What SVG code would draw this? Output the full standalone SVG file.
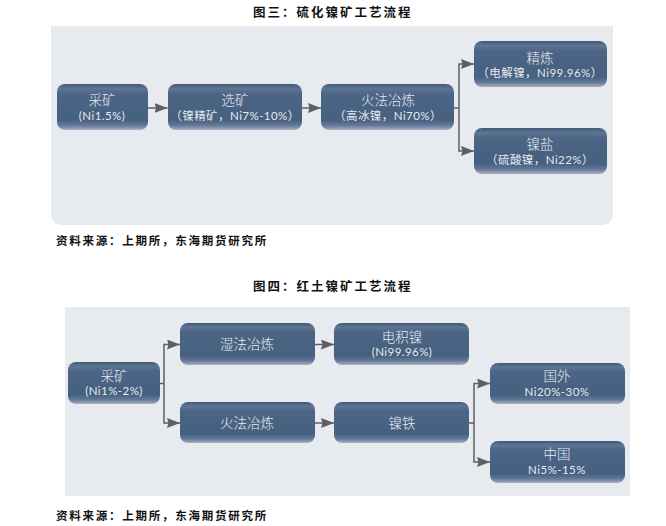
<svg xmlns="http://www.w3.org/2000/svg" width="666" height="526" viewBox="0 0 666 526">
<style>
text{font-family:"Noto Sans CJK SC","Noto Sans",sans-serif}
.t{font-size:12.5px;font-weight:700;fill:#111;letter-spacing:2px}
.s{font-size:11.5px;font-weight:700;fill:#111;letter-spacing:1.75px}
.a{font-size:13.5px;fill:#e8ebf0;text-anchor:middle;font-weight:300}
.b{font-size:11.5px;fill:#e6eaf0;text-anchor:middle;font-weight:400;font-family:"Lato","Noto Sans CJK SC",sans-serif;letter-spacing:.45px}
.n{fill:url(#g)}
.c{fill:none;stroke:#5c6064;stroke-width:1.5;marker-end:url(#m)}
.l{fill:none;stroke:#5c6064;stroke-width:1.5}
</style>
<defs>
<linearGradient id="g" x1="0" y1="0" x2="0" y2="1">
<stop offset="0" stop-color="#41597a"/><stop offset=".1" stop-color="#5d7591"/><stop offset=".22" stop-color="#4c6585"/><stop offset=".78" stop-color="#46607f"/><stop offset=".9" stop-color="#64799a"/><stop offset="1" stop-color="#a9b1c0"/>
</linearGradient>
<marker id="m" markerUnits="userSpaceOnUse" markerWidth="14" markerHeight="11" refX="13" refY="5" orient="auto"><path d="M0 0L13 5L0 10L1.500 5Z" fill="#5c6064"/></marker>
</defs>
<rect width="666" height="526" fill="#fff"/>
<text class="t" x="253" y="17">图三：硫化镍矿工艺流程</text>
<path d="M51 26H613V213Q613 225 601 225H63Q51 225 51 213Z" fill="#e7eaef"/>
<rect x="65" y="307" width="565" height="189" fill="#e7eaef"/>
<text class="s" x="56" y="245">资料来源：上期所，东海期货研究所</text>
<text class="t" x="253" y="291">图四：红土镍矿工艺流程</text>
<text class="s" x="56" y="520">资料来源：上期所，东海期货研究所</text>
<g id="connectors">
<path class="c" d="M148 108H167.500"/>
<path class="c" d="M301 108H321"/>
<path class="l" d="M454 108H459"/>
<path class="c" d="M459 108V64H474"/>
<path class="c" d="M459 108V151H474"/>
<path class="l" d="M160 383.500H164"/>
<path class="c" d="M164 383.500V344.500H180"/>
<path class="c" d="M164 383.500V423H180"/>
<path class="c" d="M315 344.500H334"/>
<path class="c" d="M315 423H334"/>
<path class="l" d="M469 423H474"/>
<path class="c" d="M474 423V383.500H490"/>
<path class="c" d="M474 423V462H490"/>
</g>
<g id="n1"><rect class="n" x="57" y="84" width="91" height="46" rx="8"/><text class="a" x="102" y="105">采矿</text><text class="b" x="102" y="120">(Ni1.5%)</text></g>
<g id="n2"><rect class="n" x="168" y="84" width="134" height="46" rx="8"/><text class="a" x="235" y="105">选矿</text><text class="b" x="235" y="120">（镍精矿，Ni7%-10%）</text></g>
<g id="n3"><rect class="n" x="321" y="84" width="133" height="46" rx="8"/><text class="a" x="388" y="105">火法冶炼</text><text class="b" x="388" y="120">（高冰镍，Ni70%）</text></g>
<g id="n4"><rect class="n" x="474" y="41" width="133" height="46" rx="8"/><text class="a" x="540" y="63">精炼</text><text class="b" x="540" y="77">（电解镍，Ni99.96%）</text></g>
<g id="n5"><rect class="n" x="474" y="128" width="133" height="46" rx="8"/><text class="a" x="540" y="149">镍盐</text><text class="b" x="540" y="164">（硫酸镍，Ni22%）</text></g>
<g id="n6"><rect class="n" x="68" y="362" width="92" height="42" rx="8"/><text class="a" x="114" y="381">采矿</text><text class="b" x="114" y="395">(Ni1%-2%)</text></g>
<g id="n7"><rect class="n" x="180" y="323" width="135" height="42" rx="8"/><text class="a" x="247" y="349">湿法冶炼</text></g>
<g id="n8"><rect class="n" x="180" y="402" width="135" height="41" rx="8"/><text class="a" x="247" y="428">火法冶炼</text></g>
<g id="n9"><rect class="n" x="334" y="323" width="135" height="42" rx="8"/><text class="a" x="402" y="342">电积镍</text><text class="b" x="402" y="356">(Ni99.96%)</text></g>
<g id="n10"><rect class="n" x="334" y="402" width="135" height="41" rx="8"/><text class="a" x="402" y="428">镍铁</text></g>
<g id="n11"><rect class="n" x="490" y="363" width="135" height="41" rx="8"/><text class="a" x="557" y="381">国外</text><text class="b" x="557" y="396">Ni20%-30%</text></g>
<g id="n12"><rect class="n" x="490" y="441" width="135" height="42" rx="8"/><text class="a" x="557" y="459">中国</text><text class="b" x="557" y="474">Ni5%-15%</text></g>
</svg>
